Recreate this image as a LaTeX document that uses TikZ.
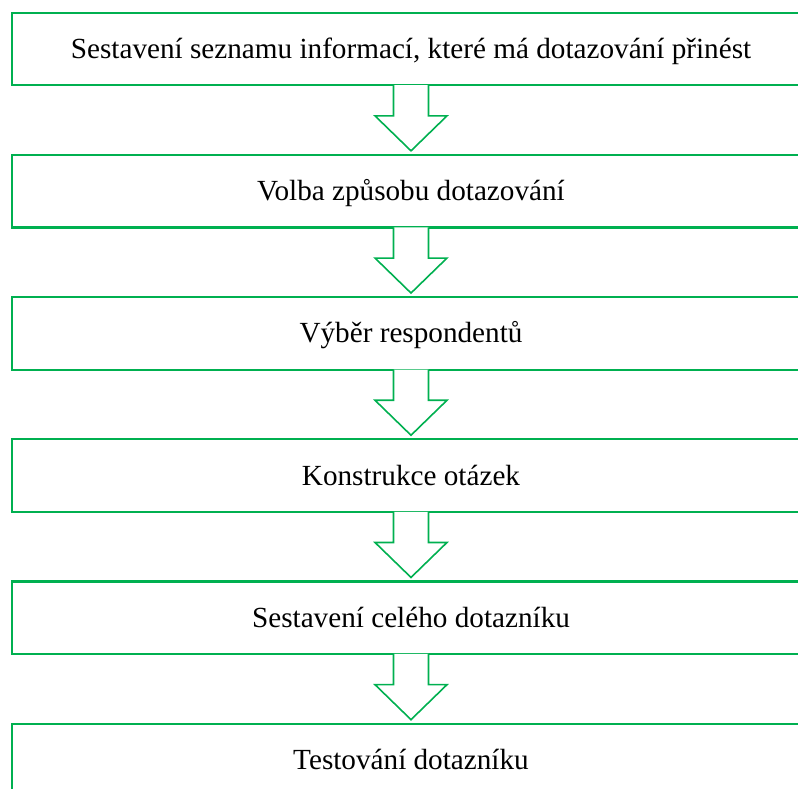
\documentclass[tikz,border=0pt]{standalone}
\usepackage{fontspec}
\setmainfont{Liberation Serif}
\usetikzlibrary{positioning}

\definecolor{stepgreen}{HTML}{00B050}
\tikzset{
    stepbox/.style={draw=stepgreen, line width=2.2pt, fill=white,
        minimum width=798pt, minimum height=72.5pt, inner sep=0pt,
        text height=19pt, text depth=0pt,
        font=\fontsize{29.2}{34}\selectfont},
    blockarrow/.style={draw=stepgreen, line width=1.6pt, fill=white, line join=miter}
}

\begin{document}
\begin{tikzpicture}[node distance=67.5pt]
    \useasboundingbox (0pt,0pt) rectangle (798pt,-789pt);
    \clip (0pt,0pt) rectangle (798pt,-789pt);

    \node[stepbox] (b1) at (411pt,-49pt) {Sestavení seznamu informací, které má dotazování přinést};
    \node[stepbox, below=of b1] (b2) {Volba způsobu dotazování};
    \node[stepbox, below=of b2] (b3) {Výběr respondentů};
    \node[stepbox, below=of b3] (b4) {Konstrukce otázek};
    \node[stepbox, below=of b4] (b5) {Sestavení celého dotazníku};
    \node[stepbox, below=of b5] (b6) {Testování dotazníku};

    \foreach \a/\b in {b1/b2, b2/b3, b3/b4, b4/b5, b5/b6}
        \draw[blockarrow] ([xshift=-17.5pt,yshift=1.2pt]\a.south)
            |- ([xshift=-36pt,yshift=38pt]\b.north)
            -- ([yshift=3pt]\b.north)
            -- ([xshift=36pt,yshift=38pt]\b.north)
            -| ([xshift=17.5pt,yshift=1.2pt]\a.south);
\end{tikzpicture}
\end{document}
